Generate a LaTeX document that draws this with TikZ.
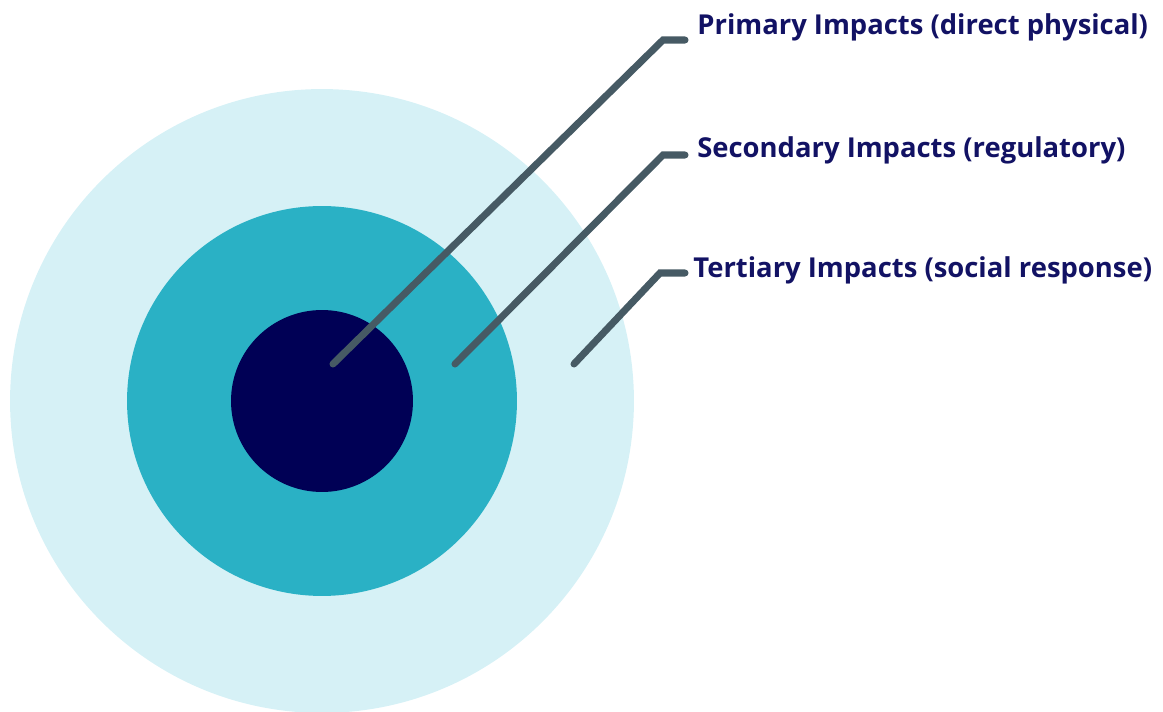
\documentclass[tikz,border=0pt]{standalone}
\usepackage{fontspec}
\setmainfont{Open Sans}
\usetikzlibrary{positioning}
\definecolor{ringout}{RGB}{214,241,246}
\definecolor{ringmid}{RGB}{42,177,197}
\definecolor{ringin}{RGB}{0,0,85}
\definecolor{leadcol}{RGB}{70,90,100}
\definecolor{textcol}{RGB}{18,18,100}
\begin{document}
\begin{tikzpicture}[x=0.02cm, y=-0.02cm,
		leader/.style={draw=leadcol, line width=4pt, line cap=round, line join=miter},
		impact/.style={font=\fontsize{15.6}{18}\selectfont\bfseries, text=textcol, inner sep=0pt, anchor=base west}]
			% 画布范围
			\useasboundingbox (0,0) rectangle (1163,712);
			% 绘制圆环
			\fill[ringout] (322,401) circle[radius=6.24cm];
			\fill[ringmid] (322,401) circle[radius=3.9cm];
			\fill[ringin] (322,401) circle[radius=1.82cm];
			% 引线端点
			\coordinate (p1) at (333,364);
			\coordinate (k1) at (663,40);
			\coordinate (h1) at (685,40);
			\coordinate (p2) at (455,364);
			\coordinate (k2) at (663,155);
			\coordinate (h2) at (685,155);
			\coordinate (p3) at (574,364);
			\coordinate (k3) at (660,273);
			\coordinate (h3) at (685,273);
			% 标记文字
			\node[impact] (prim) at (697,35) {Primary Impacts (direct physical)};
			\node[impact] (sec) at (697,158) {Secondary Impacts (regulatory)};
			\node[impact] (tert) at (693,278) {Tertiary Impacts (social response)};
			% 绘制引线
			\draw[leader] (p1) -- (k1) -- (h1);
			\draw[leader] (p2) -- (k2) -- (h2);
			\draw[leader] (p3) -- (k3) -- (h3);
		\end{tikzpicture}
\end{document}
